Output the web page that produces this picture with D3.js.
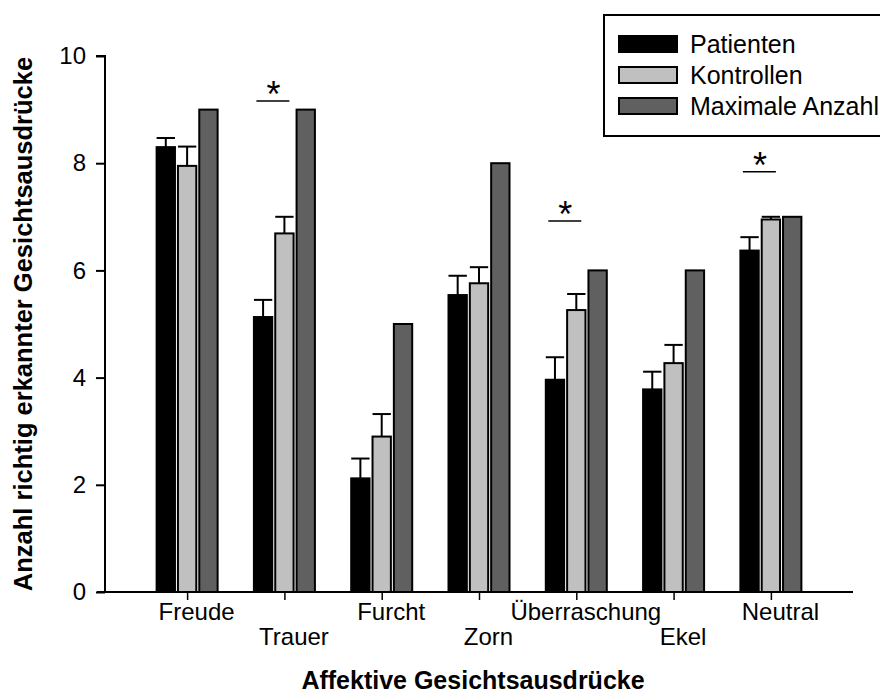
<!DOCTYPE html>
<html><head><meta charset="utf-8">
<script src="https://cdn.jsdelivr.net/npm/d3@7/dist/d3.min.js"></script>
<style>
html,body{margin:0;padding:0;background:#fff;}
svg{display:block;font-family:"Liberation Sans",Arial,sans-serif;}
</style></head>
<body>
<svg id="chart" width="880" height="693"></svg>
<script>
const categories = ["Freude","Trauer","Furcht","Zorn","Überraschung","Ekel","Neutral"];
const seriesNames = ["Patienten","Kontrollen","Maximale Anzahl"];
const patienten = [8.30, 5.13, 2.12, 5.54, 3.96, 3.78, 6.37];
const patientenErr = [0.17, 0.32, 0.37, 0.36, 0.42, 0.33, 0.25];
const kontrollen = [7.95, 6.69, 2.90, 5.76, 5.26, 4.27, 6.95];
const kontrollenErr = [0.36, 0.31, 0.42, 0.30, 0.30, 0.34, 0.05];
const maximal = [9, 9, 5, 8, 6, 6, 7];
const yTicks = [0, 2, 4, 6, 8, 10];
const sigCategories = ["Trauer","Überraschung","Neutral"];
const sigLevels = [9.16, 6.92, 7.84];
const staggered = ["Trauer","Zorn","Ekel"];

const colors = ["#000000","#c0c0c0","#606060"];
const svg = d3.select("#chart");

const y = d3.scaleLinear().domain([0,10]).range([592,56]);
const x = d3.scalePoint().domain(categories).range([105,853]).padding(0.844);
const xi = d3.scaleBand().domain(seriesNames).range([-30.5,30.5]).paddingInner(0.14).paddingOuter(0);

const series = [
  {name: seriesNames[0], values: patienten, err: patientenErr},
  {name: seriesNames[1], values: kontrollen, err: kontrollenErr},
  {name: seriesNames[2], values: maximal, err: null}
];

// bars
series.forEach((s, si) => {
  const g = svg.append("g");
  categories.forEach((c, ci) => {
    const v = s.values[ci];
    const bx = x(c) + xi(s.name);
    g.append("rect")
      .attr("x", bx).attr("y", y(v))
      .attr("width", xi.bandwidth()).attr("height", y(0) - y(v))
      .attr("fill", colors[si]).attr("stroke", "#000").attr("stroke-width", 2);
    if (s.err) {
      const top = y(v + s.err[ci]);
      const cx = bx + xi.bandwidth()/2;
      g.append("line").attr("x1", cx).attr("x2", cx).attr("y1", y(v)).attr("y2", top)
        .attr("stroke", "#000").attr("stroke-width", 2);
      g.append("line").attr("x1", bx).attr("x2", bx + xi.bandwidth()).attr("y1", top).attr("y2", top)
        .attr("stroke", "#000").attr("stroke-width", 2);
    }
  });
});

// significance
sigCategories.forEach((c, i) => {
  const ly = y(sigLevels[i]);
  svg.append("line").attr("x1", x(c) - 28).attr("x2", x(c) + 5).attr("y1", ly).attr("y2", ly)
    .attr("stroke", "#000").attr("stroke-width", 1.5);
  svg.append("text").attr("x", x(c) - 11).attr("y", ly + 6).attr("text-anchor", "middle")
    .attr("font-size", 36).text("*");
});

// y axis
const yAxis = d3.axisLeft(y).tickValues(yTicks).tickSize(9).tickPadding(10);
const gy = svg.append("g").attr("transform", "translate(105,0)").call(yAxis);
gy.select(".domain").attr("stroke-width", 2).attr("d", `M-9,${y(10)}H0V${y(0)}`);
gy.selectAll(".tick line").attr("stroke-width", 2);
gy.selectAll(".tick text").attr("font-size", 24).attr("font-family", "Liberation Sans, Arial, sans-serif").attr("fill", "#000");

// x axis
const xAxis = d3.axisBottom(x).tickSize(8).tickPadding(4);
const gx = svg.append("g").attr("transform", `translate(0,${y(0)})`).call(xAxis);
gx.select(".domain").attr("stroke-width", 2).attr("d", "M97,0H853");
gx.selectAll(".tick line").attr("stroke-width", 1.5);
gx.selectAll(".tick text").attr("font-size", 24).attr("font-family", "Liberation Sans, Arial, sans-serif").attr("fill", "#000")
  .attr("dx", 9)
  .attr("dy", d => staggered.includes(d) ? 41 : 16);

// axis titles
svg.append("text").attr("x", 473).attr("y", 689).attr("text-anchor", "middle")
  .attr("font-size", 25).attr("font-weight", "bold").text("Affektive Gesichtsausdrücke");
svg.append("text").attr("transform", "translate(32,324) rotate(-90)").attr("text-anchor", "middle")
  .attr("font-size", 25.5).attr("font-weight", "bold").text("Anzahl richtig erkannter Gesichtsausdrücke");

// legend
const lg = svg.append("g");
lg.append("rect").attr("x", 604).attr("y", 15).attr("width", 300).attr("height", 121)
  .attr("fill", "#fff").attr("stroke", "#000").attr("stroke-width", 2);
seriesNames.forEach((n, i) => {
  lg.append("rect").attr("x", 619).attr("y", 36 + i*31).attr("width", 58).attr("height", 16)
    .attr("fill", colors[i]).attr("stroke", "#000").attr("stroke-width", 2);
  lg.append("text").attr("x", 690).attr("y", 53 + i*31).attr("font-size", 25).text(n);
});
</script>
</body></html>
